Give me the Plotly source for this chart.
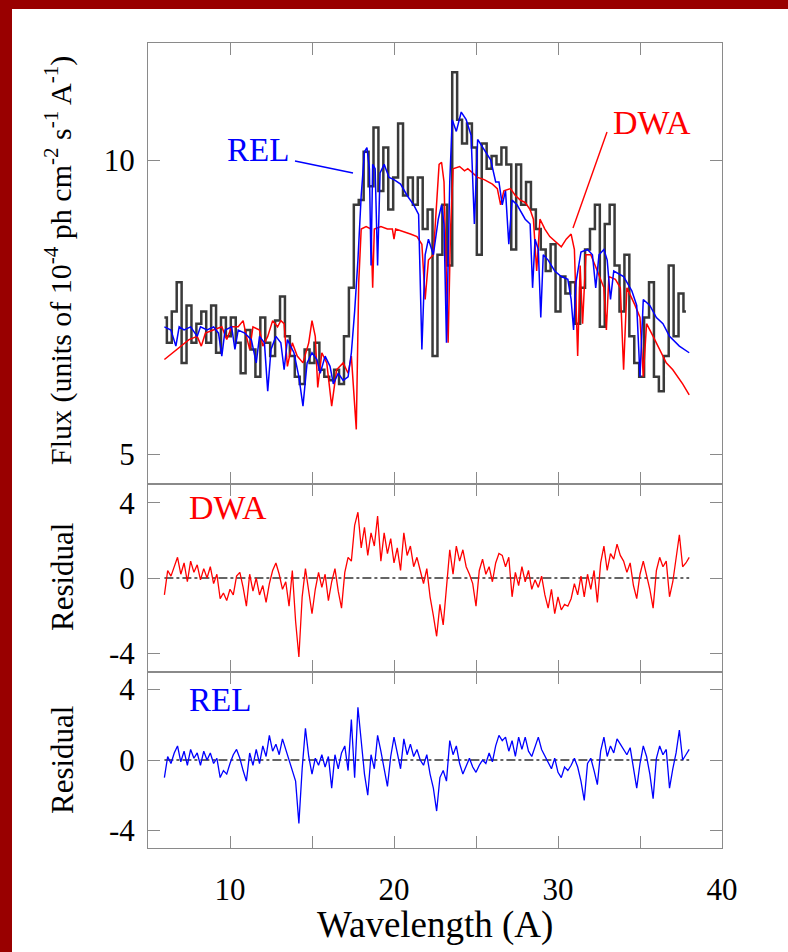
import numpy as np
import plotly.graph_objects as go

# ---------------- data ----------------
# observed spectrum (histogram bins, 0.3 A wide starting at 6.0 A)
obs_start = 6.0
obs_step = 0.3
obs_flux = [6.9, 6.5, 7.0, 7.5, 6.2, 7.1, 6.5, 6.8, 7.0, 6.5,
            7.1, 6.35, 6.9, 6.6, 6.9, 6.5, 6.05, 6.7, 6.4, 6.0,
            6.9, 6.5, 6.3, 6.85, 7.25, 6.6, 6.3, 6.0, 5.9, 6.4,
            6.2, 6.5, 6.1, 6.0, 5.95, 6.1, 5.9, 6.6, 7.4, 9.0,
            9.1, 10.2, 9.4, 10.8, 9.3, 10.3, 8.9, 9.6, 10.9, 9.2,
            9.6, 9.0, 9.6, 8.5, 8.9, 6.3, 8.0, 9.0, 7.8, 12.3,
            11.0, 10.4, 10.9, 10.3, 8.0, 10.4, 9.8, 10.1, 9.9, 10.3,
            9.9, 8.1, 9.9, 9.0, 9.5, 8.9, 8.5, 8.1, 7.7, 8.2,
            7.0, 7.6, 7.3, 7.5, 6.8, 7.4, 8.1, 8.5, 9.0, 6.75,
            8.6, 9.0, 7.8, 7.0, 8.0, 6.6, 6.2, 6.0, 6.9, 7.5,
            6.0, 5.8, 6.3, 7.8, 6.6, 7.3, 7.0]

# REL model
rel_wave = [6.0, 6.4, 6.7, 6.9, 7.2, 7.6, 8.0, 8.2, 8.6, 9.0, 9.3, 9.5, 9.7, 10.1, 10.3,
            10.5, 10.9, 11.3, 11.6, 11.8, 12.1, 12.3, 12.5, 12.8, 13.1, 13.3, 13.5, 13.9,
            14.2, 14.45, 14.7, 15.0, 15.3, 15.5, 15.8, 16.1, 16.3, 16.6, 16.9, 17.2, 17.4,
            17.6, 17.8, 18.0, 18.2, 18.35, 18.5, 18.6, 18.7, 18.85, 19.0, 19.15, 19.4, 19.7,
            20.0, 20.4, 20.8, 21.2, 21.5, 21.7, 21.9, 22.1, 22.4, 22.7, 22.9, 23.05, 23.2,
            23.4, 23.55, 23.8, 24.1, 24.4, 24.7, 24.9, 25.1, 25.4, 25.9, 26.2, 26.4, 26.6,
            26.8, 27.0, 27.2, 27.5, 28.0, 28.3, 28.45, 28.6, 28.8, 28.95, 29.1, 29.4, 29.8,
            30.2, 30.6, 30.8, 30.95, 31.1, 31.4, 31.8, 32.1, 32.3, 32.5, 32.8, 33.0, 33.2,
            33.4, 34.0, 34.5, 34.8, 35.0, 35.2, 35.6, 36.0, 36.4, 36.8, 37.4, 38.0]
rel_flux = [6.75, 6.7, 6.45, 6.75, 6.7, 6.75, 6.6, 6.75, 6.7, 6.75, 6.65, 6.3, 6.7, 6.75, 6.4,
            6.7, 6.65, 6.55, 6.2, 6.6, 6.5, 5.8, 6.4, 6.6, 6.5, 6.1, 6.55, 6.35,
            6.0, 5.6, 6.2, 6.35, 6.25, 6.05, 6.3, 6.15, 5.9, 6.05, 5.95, 6.0, 6.35,
            7.0, 7.9, 9.2, 10.2, 10.3, 9.8, 7.8, 9.9, 9.8, 7.8, 9.7, 9.9, 9.6,
            9.55, 9.45, 9.2, 9.0, 8.8, 6.4, 8.0, 8.3, 8.0, 8.7, 9.0, 8.6, 6.5,
            9.5, 11.0, 10.7, 11.2, 11.0, 10.6, 8.6, 10.5, 10.3, 10.0, 9.5, 9.5, 9.0,
            9.3, 8.2, 9.1, 9.0, 8.7, 8.6, 7.4, 8.3, 8.1, 6.9, 8.0, 7.9, 7.7,
            7.6, 7.55, 7.2, 6.7, 7.5, 8.05, 8.1, 8.0, 7.4, 8.0, 8.1, 7.9, 7.2,
            7.7, 7.6, 7.35, 7.1, 6.0, 7.2, 7.1, 6.9, 6.8, 6.6, 6.45, 6.35]

# DWA model
dwa_wave = [6.0, 6.5, 7.0, 7.5, 8.0, 8.25, 8.5, 9.0, 9.5, 9.8, 10.1, 10.5, 10.8, 11.0, 11.2,
            11.4, 11.8, 12.0, 12.3, 12.6, 12.9, 13.1, 13.3, 13.5, 13.8, 14.1, 14.45, 14.8,
            15.0, 15.2, 15.35, 15.6, 15.9, 16.2, 16.5, 16.9, 17.2, 17.4, 17.55, 17.7, 17.85,
            18.0, 18.3, 18.6, 18.7, 18.8, 19.2, 19.6, 19.9, 20.0, 20.1, 20.6, 21.0, 21.4,
            21.7, 21.9, 22.1, 22.4, 22.6, 22.75, 22.9, 23.05, 23.2, 23.3, 23.45, 23.6, 24.0,
            24.3, 24.5, 24.8, 25.1, 25.5, 26.0, 26.3, 26.5, 26.7, 27.1, 27.4, 27.7, 28.0,
            28.3, 28.5, 28.7, 28.9, 29.2, 29.5, 30.0, 30.2, 30.5, 30.8, 31.0, 31.2, 31.35,
            31.5, 31.7, 32.0, 32.4, 32.8, 32.95, 33.1, 33.5, 33.8, 34.0, 34.2, 34.7, 35.0,
            35.2, 35.4, 35.8, 36.2, 36.6, 37.0, 37.6, 38.0]
dwa_flux = [6.25, 6.35, 6.45, 6.55, 6.6, 6.45, 6.65, 6.7, 6.75, 6.55, 6.75, 6.75, 6.85, 6.6, 6.4,
            6.75, 6.7, 6.45, 6.6, 6.85, 6.75, 6.85, 6.8, 6.15, 6.5, 6.3, 6.2, 6.5,
            6.85, 6.6, 5.85, 6.35, 6.2, 5.6, 6.1, 6.2, 6.05, 6.3, 5.8, 5.3, 7.5,
            8.5, 8.55, 8.5, 7.4, 8.5, 8.55, 8.5, 8.5, 8.3, 8.5, 8.45, 8.4, 8.35,
            8.2, 7.2, 7.9, 8.0, 9.2, 9.9, 9.95, 9.5, 7.5, 6.5, 8.5, 9.8, 9.85,
            9.75, 9.8, 9.7, 9.6, 9.55, 9.45, 9.35, 9.0, 9.3, 9.35, 9.2, 9.1, 9.05,
            8.9, 8.7, 7.7, 8.7, 8.5, 8.35, 8.2, 8.15, 8.3, 8.4, 8.1, 6.3, 7.8,
            6.8, 8.0, 8.0, 7.7, 7.4, 6.7, 7.6, 7.55, 7.4, 6.1, 7.4, 7.1, 6.9,
            6.0, 6.8, 6.6, 6.4, 6.2, 6.1, 5.9, 5.75]

# residuals (0.2 A grid starting at 6.0 A)
res_start = 6.0
res_step = 0.2
res_dwa = [-0.9, 0.4, 0.1, 0.6, 1.1, 0.2, 0.8, -0.2, 0.9, 0.3,
           0.7, -0.1, 0.5, 0.0, 0.6, -0.3, 0.2, -1.1, -0.8, -1.2,
           -0.6, -0.9, 0.1, 0.3, -0.5, -1.5, 0.2, -0.7, 0.0, -0.9,
           -0.4, -1.3, -0.3, 0.4, 0.8, 0.2, -0.6, -0.2, -1.5, 0.4,
           -2.3, -4.2, -1.0, 0.5, -0.8, -1.9, -0.6, 0.3, -0.5, 0.2,
           -1.2, -0.2, 0.5, -0.7, -1.6, 0.3, 1.1, 0.9, 2.8, 3.5,
           1.6, 2.7, 1.2, 2.4, 1.7, 3.3, 0.9, 2.4, 1.3, 2.1,
           0.8, 1.6, 0.4, 2.4, 1.2, 1.7, 0.6, 1.1, 0.4, -0.3,
           0.5, -1.0, -2.0, -3.1, -1.4, -2.5, -0.5, 1.5, 0.2, 1.7,
           0.9, 1.5, 0.6, 0.2, -0.3, -1.5, 0.4, 1.0, 0.2, 0.6,
           -0.2, 0.8, 1.3, 1.2, 0.6, 1.1, -1.0, 0.3, -0.4, 0.6,
           -0.2, 0.4, -0.6, -0.1, -0.5, 0.1, -0.9, -1.6, -0.6, -1.9,
           -1.0, -1.7, -1.4, -1.5, -1.1, -0.3, -0.9, 0.1, -1.0, 0.2,
           -0.6, 0.4, -1.3, 0.8, 1.7, 0.4, 1.3, 1.0, 1.8, 1.2,
           0.9, 0.3, 0.8, -0.4, -1.1, 0.2, 0.9, 0.2, -0.6, -1.6,
           0.4, 1.1, 0.6, 0.9, -1.0, -0.2, 1.1, 2.3, 0.6, 0.8, 1.1]
res_rel = [-1.0, 0.2, -0.2, 0.4, 0.8, -0.1, 0.5, -0.3, 0.6, 0.1,
           0.4, -0.3, 0.5, 0.0, 0.4, -0.2, 0.1, -1.0, -0.6, -0.8,
           -0.2, 0.3, 0.6, 0.1, -0.6, -1.2, 0.4, -0.3, 0.6, -0.2,
           0.8, 0.2, 1.4, 0.5, 0.9, 0.3, 1.2, 0.6, 0.1, -0.5,
           -1.2, -3.6, -0.5, 1.8, 0.2, -0.8, 0.1, -0.3, 0.3, -0.4,
           0.2, -1.6, 0.3, -0.5, 0.4, 0.8, -0.6, 2.3, -1.0, 3.0,
           1.2, -0.8, -2.0, 0.3, -0.5, 1.4, 0.5, -0.4, -1.5, 0.2,
           1.3, 0.4, -0.5, 1.2, 0.3, 0.9, 0.2, 0.6, 0.0, -0.3,
           0.3, -0.8, -1.6, -2.9, -1.0, -0.6, -1.2, 1.1, 0.3, 0.8,
           -0.2, -0.8, -0.3, 0.1, -0.4, -0.7, -0.3, 0.0, -0.2, 0.4,
           -0.1, 0.8, 1.4, 1.1, 1.3, 0.5, 1.1, 0.2, 1.3, 0.6,
           1.3, 0.5, 0.2, 0.7, 1.3, 0.6, 0.2, -0.2, -0.5, 0.1,
           -0.7, -1.0, -0.4, -0.6, -0.3, 0.1, -0.4, -1.2, -2.3, -0.2,
           0.1, -0.6, -1.4, 0.5, 1.3, 0.2, 0.8, 0.4, 1.2, 0.9,
           0.6, 0.3, 0.7, -0.6, -1.6, -0.2, 0.8, 0.2, -0.8, -2.2,
           0.1, 0.8, 0.3, 0.6, -1.6, -0.5, 0.4, 1.7, 0.0, 0.3, 0.6]

x_ticks = [5, 10, 15, 20, 25, 30, 35, 40]
x_ticktext = ["", "10", "", "20", "", "30", "", "40"]
flux_ticks = [5, 10]
res_ticks = [-4, 0, 4]

# ---------------- figure ----------------
W, H = 788, 952
L, R, T, B = 148, 66, 43, 104
PW, PH = W - L - R, H - T - B


def px(xp):
    return (xp - L) / PW


def py(yp):
    return (H - B - yp) / PH


obs_wave = obs_start + obs_step * np.arange(len(obs_flux))
res_wave = res_start + res_step * np.arange(len(res_dwa))

fig = go.Figure()
fig.add_trace(go.Scatter(x=obs_wave, y=obs_flux, mode="lines", line=dict(color="#3a3a3a", width=2.5, shape="hvh"),
                         xaxis="x", yaxis="y", showlegend=False))
fig.add_trace(go.Scatter(x=dwa_wave, y=dwa_flux, mode="lines", line=dict(color="#ff0000", width=1.5),
                         xaxis="x", yaxis="y", showlegend=False))
fig.add_trace(go.Scatter(x=rel_wave, y=rel_flux, mode="lines", line=dict(color="#0000ff", width=1.5),
                         xaxis="x", yaxis="y", showlegend=False))
fig.add_trace(go.Scatter(x=res_wave, y=res_dwa, mode="lines", line=dict(color="#ff0000", width=1.3),
                         xaxis="x2", yaxis="y2", showlegend=False))
fig.add_trace(go.Scatter(x=res_wave, y=res_rel, mode="lines", line=dict(color="#0000ff", width=1.3),
                         xaxis="x3", yaxis="y3", showlegend=False))

dom_top = [py(484), 1.0]
dom_mid = [py(672), py(484)]
dom_bot = [0.0, py(672)]

font = "Liberation Serif"
axcol = "#8a8a8a"
common = dict(showline=True, mirror="ticks", linecolor=axcol, linewidth=1, ticks="inside",
              ticklen=12, tickcolor=axcol, tickwidth=1.2, showgrid=False, zeroline=False,
              tickfont=dict(family=font, size=31, color="black"))

xcommon = dict(common, range=[5, 40], tickmode="array", tickvals=x_ticks, ticktext=x_ticktext)
fig.update_layout(
    width=W, height=H,
    margin=dict(l=L, r=R, t=T, b=B),
    paper_bgcolor="white", plot_bgcolor="white",
    xaxis=dict(xcommon, domain=[0, 1], anchor="y", showticklabels=False),
    xaxis2=dict(xcommon, domain=[0, 1], anchor="y2", showticklabels=False, matches="x"),
    xaxis3=dict(xcommon, domain=[0, 1], anchor="y3", showticklabels=True, ticklabelstandoff=14, matches="x"),
    yaxis=dict(common, domain=dom_top, anchor="x", type="log",
               range=[np.log10(4.66), np.log10(13.18)], tickmode="array",
               tickvals=flux_ticks, ticktext=[str(v) for v in flux_ticks], ticklabelstandoff=6),
    yaxis2=dict(common, domain=dom_mid, anchor="x2", range=[-5, 5], tickmode="array",
                tickvals=res_ticks, ticktext=[str(v) for v in res_ticks], ticklabelstandoff=6),
    yaxis3=dict(common, domain=dom_bot, anchor="x3", range=[-5, 5], tickmode="array",
                tickvals=res_ticks, ticktext=[str(v) for v in res_ticks], ticklabelstandoff=6),
)

shapes = []
# zero lines in residual panels
for xa, ya in (("x2", "y2"), ("x3", "y3")):
    shapes.append(dict(type="line", xref=xa, yref=ya, x0=res_wave[0], x1=res_wave[-1], y0=0, y1=0,
                       line=dict(color="#333333", width=1.5, dash="dashdot"), layer="below"))
# leader lines for model labels
shapes.append(dict(type="line", xref="paper", yref="paper", x0=px(295), y0=py(161), x1=px(353), y1=py(173),
                   line=dict(color="#0000ff", width=1.4)))
shapes.append(dict(type="line", xref="paper", yref="paper", x0=px(607), y0=py(132), x1=px(573), y1=py(228),
                   line=dict(color="#ff0000", width=1.4)))
# dark red page border (top and left)
shapes.append(dict(type="rect", xref="paper", yref="paper", x0=px(-20), x1=px(12), y0=py(H + 20), y1=py(-20),
                   fillcolor="#990000", line=dict(width=0), layer="above"))
shapes.append(dict(type="rect", xref="paper", yref="paper", x0=px(-20), x1=px(W + 20), y0=py(9), y1=py(-20),
                   fillcolor="#990000", line=dict(width=0), layer="above"))
fig.update_layout(shapes=shapes)

ann = []


def add_text(text, xp, yp, size, color="black", angle=0):
    ann.append(dict(text=text, x=px(xp), y=py(yp), xref="paper", yref="paper", showarrow=False,
                    xanchor="center", yanchor="middle", textangle=angle,
                    font=dict(family=font, size=size, color=color)))


add_text("Flux (units of 10<sup>-4</sup> ph cm<sup>-2</sup> s<sup>-1</sup> A<sup>-1</sup>)", 58, 261, 30, angle=-90)
add_text("Residual", 62, 577, 31, angle=-90)
add_text("Residual", 62, 760, 31, angle=-90)
add_text("Wavelength (A)", 435, 925, 37)
add_text("REL", 258, 150, 33, color="#0000ff")
add_text("DWA", 652, 122, 34, color="#ff0000")
add_text("DWA", 228, 507, 34, color="#ff0000")
add_text("REL", 220, 700, 33, color="#0000ff")
fig.update_layout(annotations=ann)

fig.write_html("out.html")
